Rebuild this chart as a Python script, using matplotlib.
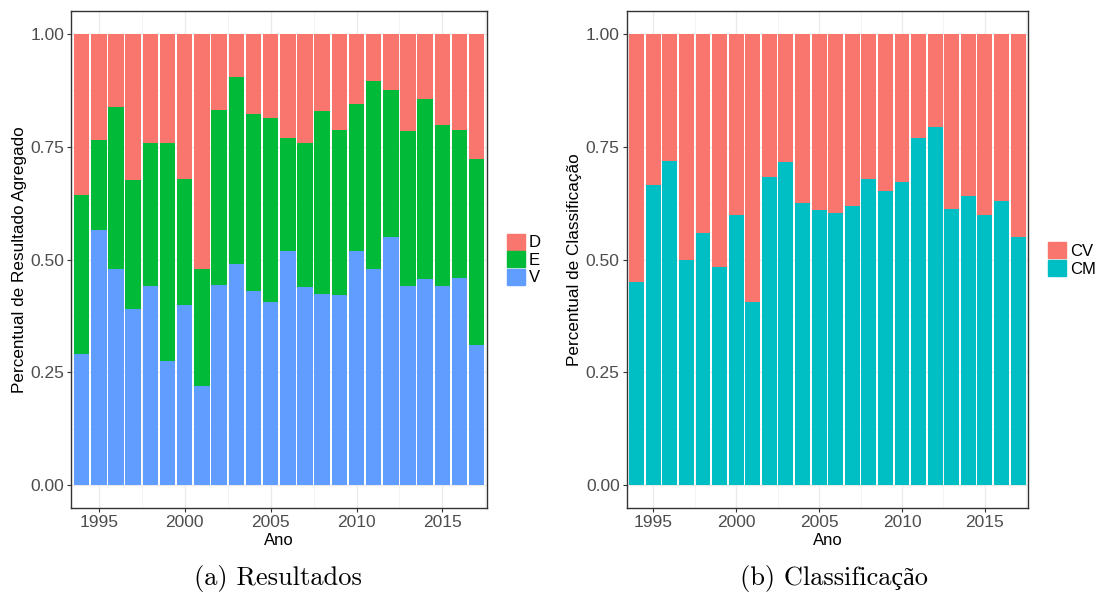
import numpy as np
import matplotlib
matplotlib.use("Agg")
import matplotlib.pyplot as plt
from matplotlib.patches import Patch
from matplotlib.ticker import MultipleLocator

anos = list(range(1994, 2018))

# proporções acumuladas lidas por ano (empilhamento V, E, D)
v_prop = [0.290, 0.566, 0.480, 0.391, 0.441, 0.275, 0.400, 0.221, 0.444, 0.491,
          0.431, 0.407, 0.520, 0.440, 0.424, 0.422, 0.520, 0.478, 0.550, 0.442,
          0.458, 0.442, 0.460, 0.310]
ve_prop = [0.643, 0.765, 0.838, 0.676, 0.758, 0.758, 0.679, 0.480, 0.831, 0.904,
           0.822, 0.814, 0.769, 0.758, 0.829, 0.787, 0.845, 0.895, 0.875, 0.785,
           0.856, 0.798, 0.787, 0.723]
cm_prop = [0.451, 0.665, 0.718, 0.500, 0.559, 0.483, 0.599, 0.407, 0.683, 0.716,
           0.626, 0.610, 0.604, 0.619, 0.679, 0.652, 0.672, 0.770, 0.794, 0.612,
           0.641, 0.599, 0.630, 0.550]

cores_res = {"D": "#F8766D", "E": "#00BA38", "V": "#619CFF"}
cores_cls = {"CV": "#F8766D", "CM": "#00BFC4"}

plt.rcParams["font.family"] = ["Liberation Sans", "DejaVu Sans"]

fig = plt.figure(figsize=(10.96, 5.93), dpi=100)
ax1 = fig.add_axes([0.0651, 0.1433, 0.3793, 0.838])
ax2 = fig.add_axes([0.5718, 0.1433, 0.3662, 0.838])

x = np.array(anos)
v = np.array(v_prop)
ve = np.array(ve_prop)
cm = np.array(cm_prop)

w = 0.9
ax1.bar(x, v, width=w, color=cores_res["V"], zorder=3)
ax1.bar(x, ve - v, bottom=v, width=w, color=cores_res["E"], zorder=3)
ax1.bar(x, 1 - ve, bottom=ve, width=w, color=cores_res["D"], zorder=3)

ax2.bar(x, cm, width=w, color=cores_cls["CM"], zorder=3)
ax2.bar(x, 1 - cm, bottom=cm, width=w, color=cores_cls["CV"], zorder=3)


def estilo(ax, ylabel, ylab_x):
    ax.set_xlim(1993.4, 2017.6)
    ax.set_ylim(-0.05, 1.05)
    ax.set_xticks([1995, 2000, 2005, 2010, 2015])
    ax.set_yticks([0, 0.25, 0.5, 0.75, 1.0])
    ax.set_yticklabels(["0.00", "0.25", "0.50", "0.75", "1.00"])
    ax.xaxis.set_minor_locator(MultipleLocator(2.5))
    ax.yaxis.set_minor_locator(MultipleLocator(0.125))
    ax.grid(which="major", color="#EBEBEB", lw=1.0, zorder=0)
    ax.grid(which="minor", color="#F2F2F2", lw=0.6, zorder=0)
    ax.tick_params(which="major", length=3, width=0.8, color="#333333",
                   labelcolor="#4D4D4D", labelsize=12.5, pad=2)
    ax.tick_params(which="minor", length=0)
    for s in ax.spines.values():
        s.set_color("#333333")
        s.set_linewidth(1.0)
    ax.set_xlabel("Ano", fontsize=12, color="black")
    ax.xaxis.set_label_coords(0.5, -0.05)
    ax.set_ylabel(ylabel, fontsize=12.3, color="black")
    ax.yaxis.set_label_coords(ylab_x, 0.5)
    ax.set_axisbelow(True)


estilo(ax1, "Percentual de Resultado Agregado", -0.107)
estilo(ax2, "Percentual de Classificação", -0.111)

leg_kw = dict(loc="center left", frameon=False, fontsize=12,
              handlelength=1.1, handleheight=1.1, handletextpad=0.2,
              labelspacing=0.05, borderaxespad=0, borderpad=0)
ax1.legend(handles=[Patch(color=cores_res[k], label=k) for k in ["D", "E", "V"]],
           bbox_to_anchor=(1.048, 0.5), **leg_kw)
ax2.legend(handles=[Patch(color=cores_cls[k], label=k) for k in ["CV", "CM"]],
           bbox_to_anchor=(1.05, 0.5), **leg_kw)

serif = ["cmr10", "Liberation Serif"]
fig.text(278 / 1096, 1 - 578 / 593, "(a) Resultados", ha="center", va="center",
         fontsize=19, family=serif)
fig.text(834 / 1096, 1 - 578 / 593, "(b) Classificação", ha="center", va="center",
         fontsize=19, family=serif)

fig.savefig("out.png", dpi=100)
